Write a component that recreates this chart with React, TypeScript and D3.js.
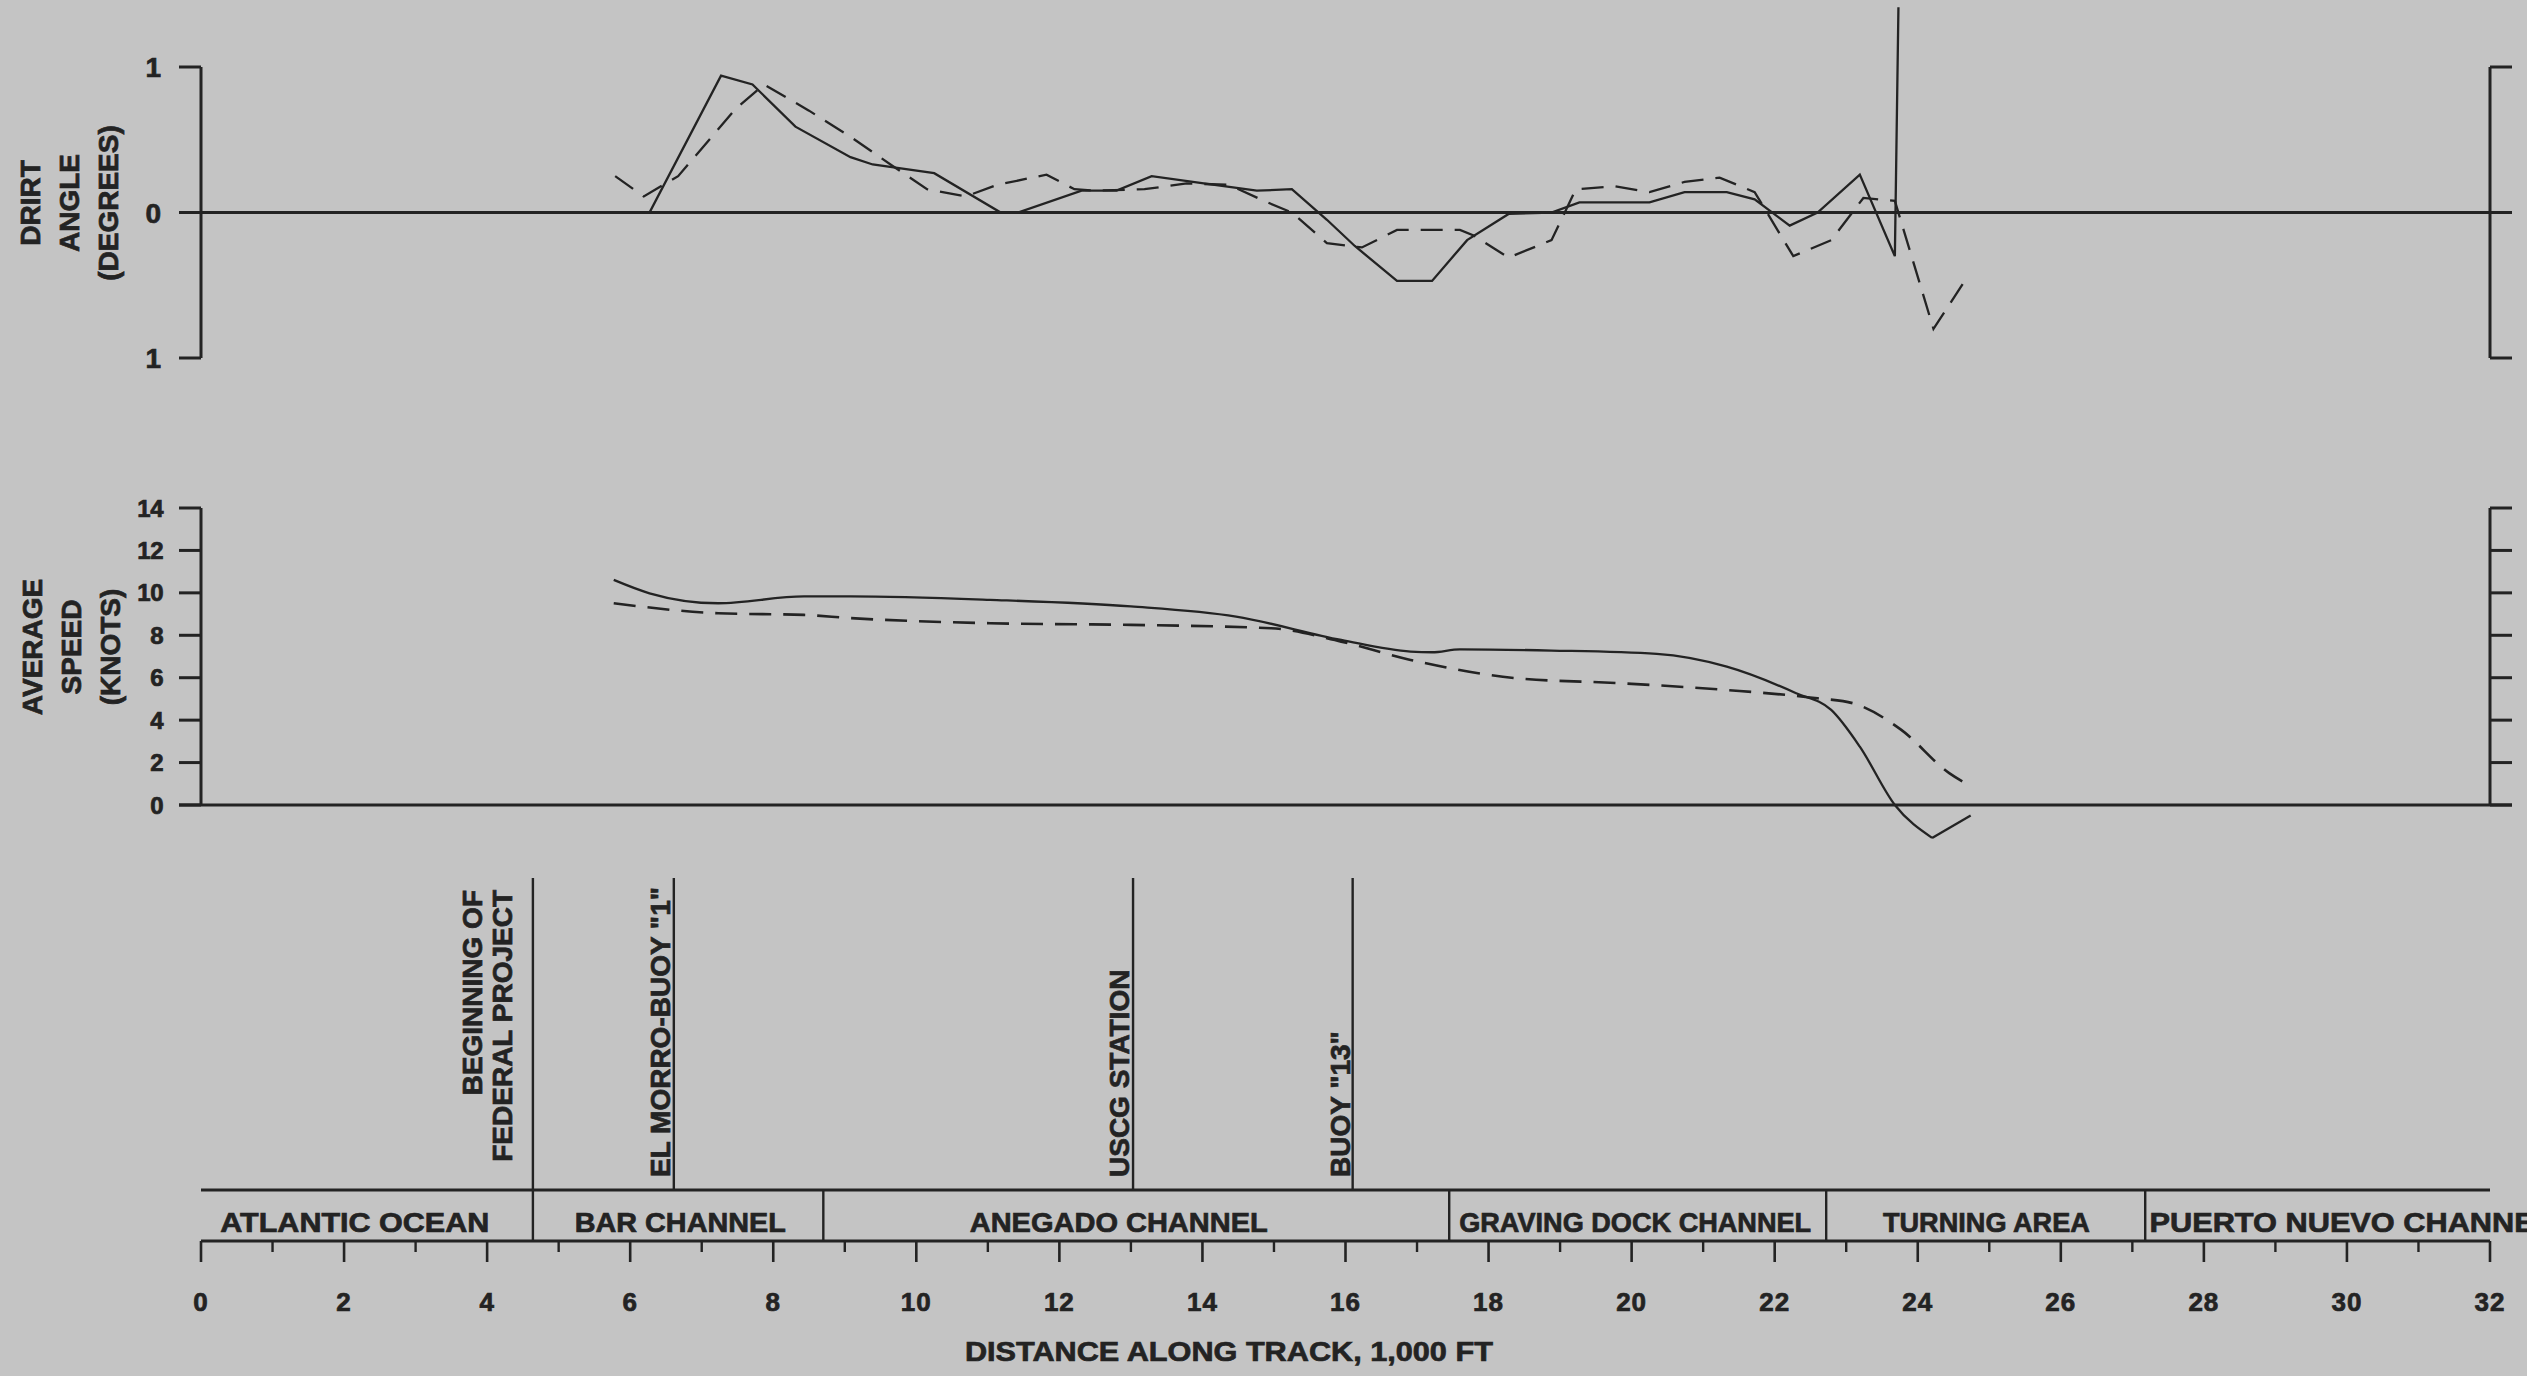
import React from 'react';
import * as d3 from 'd3';

// ---------------- data ----------------
const driftSolid: [number, number][] = [
  [5.87, 0], [6.27, 0], [7.27, 0.94], [7.71, 0.88], [8.31, 0.59], [9.08, 0.38], [9.39, 0.33],
  [10.25, 0.27], [11.18, 0.0], [11.42, 0.0], [12.31, 0.15], [12.8, 0.15], [13.29, 0.25],
  [14.17, 0.19], [14.76, 0.15], [15.25, 0.16], [15.74, -0.05], [16.13, -0.23], [16.72, -0.47],
  [17.21, -0.47], [17.7, -0.19], [18.28, -0.01], [18.88, 0.0], [19.27, 0.07], [20.25, 0.07],
  [20.74, 0.14], [21.33, 0.14], [21.72, 0.09], [22.21, -0.09], [22.6, 0.0], [23.19, 0.26],
  [23.68, -0.3], [23.73, 1.41],
];
const driftDashed: [number, number][] = [
  [5.79, 0.25], [6.19, 0.11], [6.67, 0.25], [7.47, 0.71], [7.87, 0.88], [8.5, 0.7], [9.08, 0.52],
  [9.67, 0.32], [10.15, 0.16], [10.69, 0.11], [11.13, 0.19], [11.82, 0.26], [12.21, 0.16],
  [12.51, 0.15], [13.19, 0.16], [13.78, 0.2], [14.37, 0.19], [14.86, 0.08], [15.25, 0.0],
  [15.74, -0.21], [16.23, -0.24], [16.72, -0.12], [17.6, -0.12], [17.8, -0.16], [18.28, -0.31],
  [18.88, -0.19], [19.22, 0.16], [19.76, 0.18], [20.25, 0.14], [20.74, 0.21], [21.23, 0.24],
  [21.72, 0.14], [22.26, -0.3], [22.79, -0.19], [23.24, 0.1], [23.68, 0.08], [24.22, -0.8],
  [24.67, -0.46],
];
const speedSolid: [number, number][] = [
  [5.77, 10.61], [6.27, 9.98], [7.23, 9.51], [8.43, 9.83], [9.08, 9.83], [11.03, 9.67],
  [13.0, 9.36], [14.47, 8.88], [15.94, 7.78], [16.91, 7.23], [17.21, 7.2], [17.6, 7.34],
  [18.88, 7.28], [20.35, 7.12], [21.33, 6.52], [22.3, 5.27], [22.79, 4.48], [23.19, 2.75],
  [23.68, 0.0], [24.2, -1.55], [24.74, -0.5],
];
const speedDashed: [number, number][] = [
  [5.77, 9.51], [7.23, 9.04], [8.43, 8.96], [9.08, 8.81], [11.03, 8.57], [13.0, 8.49],
  [14.96, 8.33], [15.94, 7.7], [16.91, 6.84], [18.38, 5.98], [19.85, 5.74], [21.33, 5.42],
  [22.6, 5.03], [23.09, 4.8], [23.77, 3.54], [24.44, 1.5], [24.71, 0.94],
];

const driftTicks = [1, 0, -1];
const driftTickLabels = ['1', '0', '1'];
const speedTicks = [0, 2, 4, 6, 8, 10, 12, 14];
const distanceMajorTicks = [0, 2, 4, 6, 8, 10, 12, 14, 16, 18, 20, 22, 24, 26, 28, 30, 32];
const distanceMinorTicks = [1, 3, 5, 7, 9, 11, 13, 15, 17, 19, 21, 23, 25, 27, 29, 31];

const reachNames = ['ATLANTIC OCEAN', 'BAR CHANNEL', 'ANEGADO CHANNEL', 'GRAVING DOCK CHANNEL', 'TURNING AREA', 'PUERTO NUEVO CHANNEL'];
const reachBounds = [0, 4.64, 8.7, 17.45, 22.72, 27.18, 32];
const reachLabelX = [2.15, 6.7, 12.83, 20.05, 24.96, 27.24];

const landmarkNames = [['BEGINNING OF', 'FEDERAL PROJECT'], ['EL MORRO-BUOY "1"'], ['USCG STATION'], ['BUOY "13"']];
const landmarkX = [4.64, 6.61, 13.03, 16.1];

const driftTitle = ['DRIRT', 'ANGLE', '(DEGREES)'];
const speedTitle = ['AVERAGE', 'SPEED', '(KNOTS)'];
const xTitle = 'DISTANCE ALONG TRACK, 1,000 FT';
const xTitleAt = 14.37;

// ---------------- styles ----------------
const W = 2527;
const H = 1376;
const BG = '#c4c4c4';
const INK = '#232323';
const FONT = '"Liberation Sans", Arial, Helvetica, sans-serif';
const TEXT_STROKE = 0.7;

export default function App() {
  const x = d3.scaleLinear().domain([0, 32]).range([201, 2490]);
  const yD = d3.scaleLinear().domain([-1, 1]).range([358, 67]);
  const yS = d3.scaleLinear().domain([0, 14]).range([805, 508]);

  const driftLine = d3.line<[number, number]>().x((d) => x(d[0])).y((d) => yD(d[1]));
  const speedSmooth = d3
    .line<[number, number]>()
    .x((d) => x(d[0]))
    .y((d) => yS(d[1]))
    .curve(d3.curveMonotoneX);
  const speedStraight = d3.line<[number, number]>().x((d) => x(d[0])).y((d) => yS(d[1]));

  // the solid speed trace has a sharp minimum: smooth up to the minimum, straight after it
  const minIdx = d3.minIndex(speedSolid, (d) => d[1]);
  const speedSolidA = speedSolid.slice(0, minIdx + 1);
  const speedSolidB = speedSolid.slice(minIdx);

  const x0 = x(0);
  const x32 = x(32);
  const bandTop = 1190;
  const bandBot = 1241;
  const tickLen = 22;
  const landmarkTop = 878;

  const reachLen = [269, 211, 298, 352, 207, 404];
  const landmarkOffset = [21, 4, 4, 3];

  return (
    <svg
      width={W}
      height={H}
      viewBox={`0 0 ${W} ${H}`}
      style={{ position: 'absolute', left: 0, top: 0, display: 'block', background: BG }}
      fontFamily={FONT}
      fontWeight="bold"
      fill={INK}
    >
      <rect x={0} y={0} width={W} height={H} fill={BG} />

      {/* ---------- Drift angle panel ---------- */}
      <g stroke={INK} strokeWidth={3} fill="none">
        <line x1={x0} x2={x0} y1={yD(1)} y2={yD(-1)} />
        <line x1={x32} x2={x32} y1={yD(1)} y2={yD(-1)} />
        <line x1={x0 - tickLen} x2={x32 + tickLen} y1={yD(0)} y2={yD(0)} />
        {driftTicks.map((t) => (
          <g key={t}>
            <line x1={x0 - tickLen} x2={x0} y1={yD(t)} y2={yD(t)} />
            <line x1={x32} x2={x32 + tickLen} y1={yD(t)} y2={yD(t)} />
          </g>
        ))}
      </g>
      <g stroke={INK} strokeWidth={TEXT_STROKE}>
        {driftTicks.map((t, i) => (
          <text key={t} x={x0 - 40} y={yD(t)} dy="0.36em" textAnchor="end" fontSize={28}>
            {driftTickLabels[i]}
          </text>
        ))}
        {driftTitle.map((s, i) => (
          <text
            key={s}
            transform={`translate(${30 + i * 39},203) rotate(-90)`}
            textAnchor="middle"
            dy="0.36em"
            fontSize={28}
          >
            {s}
          </text>
        ))}
      </g>
      <path d={driftLine(driftSolid) || ''} fill="none" stroke={INK} strokeWidth={2.3} />
      <path d={driftLine(driftDashed) || ''} fill="none" stroke={INK} strokeWidth={2.3} strokeDasharray="22,12" />

      {/* ---------- Speed panel ---------- */}
      <g stroke={INK} strokeWidth={3} fill="none">
        <line x1={x0} x2={x0} y1={yS(14)} y2={yS(0)} />
        <line x1={x32} x2={x32} y1={yS(14)} y2={yS(0)} />
        <line x1={x0 - tickLen} x2={x32 + tickLen} y1={yS(0)} y2={yS(0)} />
        {speedTicks.map((t) => (
          <g key={t}>
            <line x1={x0 - tickLen} x2={x0} y1={yS(t)} y2={yS(t)} />
            <line x1={x32} x2={x32 + tickLen} y1={yS(t)} y2={yS(t)} />
          </g>
        ))}
      </g>
      <g stroke={INK} strokeWidth={TEXT_STROKE}>
        {speedTicks.map((t) => (
          <text key={t} x={x0 - 38} y={yS(t)} dy="0.36em" textAnchor="end" fontSize={24} letterSpacing={-0.5}>
            {t}
          </text>
        ))}
        {speedTitle.map((s, i) => (
          <text
            key={s}
            transform={`translate(${32 + i * 39},647) rotate(-90)`}
            textAnchor="middle"
            dy="0.36em"
            fontSize={28}
          >
            {s}
          </text>
        ))}
      </g>
      <path d={speedSmooth(speedSolidA) || ''} fill="none" stroke={INK} strokeWidth={2.3} />
      <path d={speedStraight(speedSolidB) || ''} fill="none" stroke={INK} strokeWidth={2.3} />
      <path d={speedSmooth(speedDashed) || ''} fill="none" stroke={INK} strokeWidth={2.6} strokeDasharray="22,12" />

      {/* ---------- Landmarks ---------- */}
      <g stroke={INK} strokeWidth={2.4}>
        {landmarkX.map((lx) => (
          <line key={lx} x1={x(lx)} x2={x(lx)} y1={landmarkTop} y2={bandTop} />
        ))}
      </g>
      <g stroke={INK} strokeWidth={TEXT_STROKE}>
        {landmarkNames.map((lines, i) => {
          const lx = x(landmarkX[i]);
          const multi = lines.length > 1;
          return lines.map((s, j) => {
            const bx = lx - landmarkOffset[i] - (lines.length - 1 - j) * 30;
            return (
              <text
                key={s}
                transform={multi ? `translate(${bx},890) rotate(-90)` : `translate(${bx},1177) rotate(-90)`}
                textAnchor={multi ? 'end' : 'start'}
                fontSize={28}
              >
                {s}
              </text>
            );
          });
        })}
      </g>

      {/* ---------- Reach band and distance axis ---------- */}
      <g stroke={INK} strokeWidth={3}>
        <line x1={x0} x2={x32} y1={bandTop} y2={bandTop} />
        <line x1={x0} x2={x32} y1={bandBot} y2={bandBot} />
        {reachBounds.slice(1, -1).map((b) => (
          <line key={b} x1={x(b)} x2={x(b)} y1={bandTop} y2={bandBot} strokeWidth={2.4} />
        ))}
        {distanceMajorTicks.map((t) => (
          <line key={t} x1={x(t)} x2={x(t)} y1={bandBot} y2={bandBot + 21} strokeWidth={2.6} />
        ))}
        {distanceMinorTicks.map((t) => (
          <line key={t} x1={x(t)} x2={x(t)} y1={bandBot} y2={bandBot + 11} strokeWidth={2.4} />
        ))}
      </g>
      <g stroke={INK} strokeWidth={TEXT_STROKE}>
        {reachNames.map((s, i) => (
          <text
            key={s}
            x={x(reachLabelX[i])}
            y={1232}
            textAnchor={i === reachNames.length - 1 ? 'start' : 'middle'}
            fontSize={28}
            textLength={reachLen[i]}
            lengthAdjust="spacingAndGlyphs"
          >
            {s}
          </text>
        ))}
        {distanceMajorTicks.map((t) => (
          <text key={t} x={x(t)} y={1311} textAnchor="middle" fontSize={26} letterSpacing={1}>
            {t}
          </text>
        ))}
        <text x={x(xTitleAt)} y={1361} textAnchor="middle" fontSize={28} textLength={528} lengthAdjust="spacingAndGlyphs">
          {xTitle}
        </text>
      </g>
    </svg>
  );
}
